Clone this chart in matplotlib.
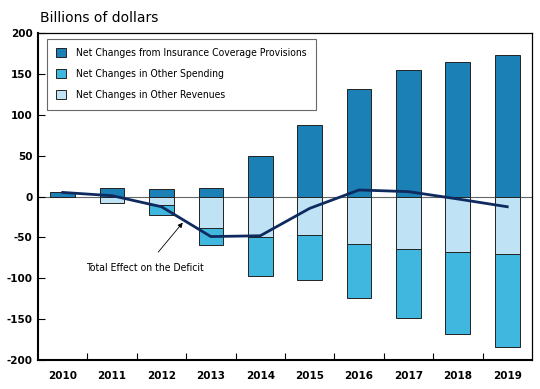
import matplotlib.pyplot as plt
import numpy as np

years = ['2010', '2011', '2012', '2013', '2014', '2015', '2016', '2017', '2018', '2019']
# billions of dollars
insurance = [5, 10, 9.5, 10, 50, 87.5, 132, 155, 165, 173]
other_rev = [0, -8.5, -10.5, -38, -50, -47, -58.5, -64.5, -68, -70.5]
other_spend = [0, 0, -12, -21.5, -47, -55.5, -66, -84, -100, -114]
total = [5, 1, -12.5, -49, -48, -14.5, 8, 6, -3, -12.5]

dark = '#1a80b6'
mid = '#40b7df'
light = '#bfe3f5'

x = np.arange(len(years))
w = 0.5

fig = plt.figure(figsize=(5.4, 3.89), dpi=100)
ax = fig.add_axes([0.0704, 0.0746, 0.9146, 0.8404])

ax.bar(x, insurance, w, color=dark, edgecolor='#222222', linewidth=0.7,
       label='Net Changes from Insurance Coverage Provisions', zorder=2)
ax.bar(x, other_spend, w, bottom=other_rev, color=mid, edgecolor='#222222', linewidth=0.7,
       label='Net Changes in Other Spending', zorder=2)
ax.bar(x, other_rev, w, color=light, edgecolor='#222222', linewidth=0.7,
       label='Net Changes in Other Revenues', zorder=2)

ax.axhline(0, color='#666666', linewidth=0.8, zorder=1)
ax.plot(x, total, color='#0f2a5e', linewidth=2, zorder=3)

ax.annotate('Total Effect on the Deficit', xy=(2.43, -32), xytext=(1.66, -88),
            ha='center', va='center', fontsize=7.5, fontstretch='condensed',
            arrowprops=dict(arrowstyle='-|>', color='black', lw=0.6,
                            shrinkA=8, shrinkB=0, mutation_scale=7))

ax.set_xlim(-0.5, 9.5)
ax.set_ylim(-200, 200)
ax.set_yticks(np.arange(-200, 201, 50))
ax.set_yticklabels([str(v) for v in range(-200, 201, 50)], fontsize=7.5, fontweight='semibold')
ax.tick_params(axis='y', direction='in', length=5, width=0.8, pad=4)
ax.set_xticks(x)
ax.set_xticklabels(years, fontsize=7.5, fontweight='semibold')
ax.set_xticks(np.arange(0.5, 9.5, 1), minor=True)
ax.tick_params(axis='x', which='major', length=0, pad=8)
ax.tick_params(axis='x', which='minor', direction='in', length=5, width=0.8)

for s in ['left', 'bottom']:
    ax.spines[s].set_linewidth(1.5)
for s in ['top', 'right']:
    ax.spines[s].set_linewidth(0.9)

leg = ax.legend(loc='upper left', bbox_to_anchor=(0.018, 0.982),
                prop={'size': 7.5, 'stretch': 'condensed'},
                fancybox=False, edgecolor='#444444', handlelength=0.95, handleheight=0.95,
                labelspacing=1.05, borderpad=0.9, handletextpad=0.95, borderaxespad=0)
leg.get_frame().set_linewidth(0.8)

fig.text(0.074, 0.955, 'Billions of dollars', fontsize=10, va='center')

fig.savefig('out.png', dpi=100)
